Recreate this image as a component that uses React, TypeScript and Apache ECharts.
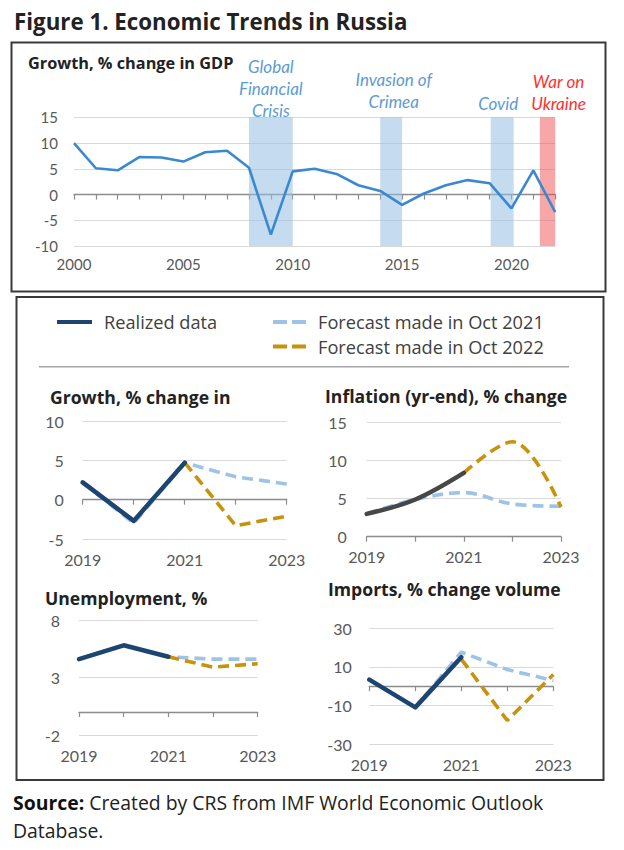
import { useEffect, useRef } from 'react';
import * as echarts from 'echarts';

// ---------- data ----------
const gdpYears = [2000, 2001, 2002, 2003, 2004, 2005, 2006, 2007, 2008, 2009, 2010, 2011, 2012, 2013, 2014, 2015, 2016, 2017, 2018, 2019, 2020, 2021, 2022];
const gdpGrowth = [10.0, 5.1, 4.7, 7.3, 7.2, 6.4, 8.2, 8.5, 5.2, -7.8, 4.5, 5.0, 4.0, 1.8, 0.7, -2.0, 0.2, 1.8, 2.8, 2.2, -2.7, 4.7, -3.4];

const eventNames = ['Global\nFinancial\nCrisis', 'Invasion of\nCrimea', 'Covid', 'War on\nUkraine'];
const eventStart = [2008, 2014, 2019.05, 2021.3];
const eventEnd = [2010, 2015, 2020.1, 2022.15];
const eventLow = [-10.5, -10.7, -10, -10];
const eventHigh = [15, 15, 15, 15];

const panelYears = ['2019', '2020', '2021', '2022', '2023'];

const growthRealized = [2.2, -2.7, 4.7, null, null];
const growthOct2021 = [2.2, -3.0, 4.7, 2.9, 2.0];
const growthOct2022 = [null, null, 4.7, -3.3, -2.1];

const inflationRealized = [3.0, 4.9, 8.4, null, null];
const inflationOct2021 = [3.0, 4.9, 5.8, 4.3, 4.0];
const inflationOct2022 = [null, null, 8.4, 12.5, 3.9];

const unempRealized = [4.6, 5.8, 4.8, null, null];
const unempOct2021 = [4.6, 5.8, 4.8, 4.6, 4.6];
const unempOct2022 = [null, null, 4.8, 3.9, 4.2];

const importsRealized = [3.4, -11.0, 15.0, null, null];
const importsOct2021 = [3.4, -11.0, 17.6, 8.6, 2.9];
const importsOct2022 = [null, null, 14.0, -17.8, 6.0];

const panelTitles = ['Growth, % change in', 'Inflation (yr-end), % change', 'Unemployment, %', 'Imports, % change volume'];
const panelYMin = [-5, 0, -2, -30];
const panelYMax = [10, 15, 8, 30];
const panelYStep = [5, 5, 5, 20];

// ---------- styles ----------
const FONT = 'Lato';
const HEAD = 'Open Sans';
const NAVY = '#1D4571';
const GRAYLINE = '#474747';
const LIGHTBLUE = '#9DC3E6';
const ORANGE = '#C8920C';
const LABEL = '#595959';
const GRID = '#D9D9D9';
const AXIS = '#8C8C8C';

const eventColors = ['rgba(150,190,228,0.55)', 'rgba(150,190,228,0.55)', 'rgba(150,190,228,0.55)', 'rgba(240,80,80,0.5)'];
const eventTextColors = ['#5B9BD5', '#5B9BD5', '#5B9BD5', '#FF3030'];
const eventLabelDist = [-4.4, 4.6, 3, 3];
const eventLabelDx = [0, 2.5, -4, 11];

const panelGrids = [
  { left: 82.7, top: 421, width: 204, height: 118 },
  { left: 366.7, top: 422.7, width: 194.3, height: 114 },
  { left: 79, top: 620, width: 178.7, height: 115 },
  { left: 369.3, top: 628.3, width: 184, height: 115.7 },
];
const panelTitlePos = [
  { left: 50, top: 388 },
  { left: 325, top: 387.5 },
  { left: 45, top: 589.5 },
  { left: 328, top: 580.5 },
];
const panelYMargin = [19, 20, 19, 17.5];

export default function App() {
  const ref = useRef<HTMLDivElement>(null);

  useEffect(() => {
    if (!ref.current) return;
    const chart = echarts.init(ref.current, undefined, { renderer: 'svg' });

    const titleBold = (size: number) => ({ fontFamily: HEAD, fontWeight: 'bold' as const, fontSize: size, color: '#222' });

    const grids: any[] = [
      { left: 74, top: 117.3, width: 481.2, height: 128.7, outerBoundsMode: 'none' },
      ...panelGrids.map((g) => ({ ...g, outerBoundsMode: 'none' })),
    ];

    const xAxes: any[] = [
      {
        gridIndex: 0, type: 'value', min: 2000, max: 2022, interval: 5, position: 'bottom',
        axisLine: { show: false, onZero: false }, axisTick: { show: false }, splitLine: { show: false },
        axisLabel: { fontFamily: FONT, fontSize: 15, color: LABEL, margin: 10, formatter: (v: number) => (v % 5 === 0 ? String(v) : '') },
      },
      {
        gridIndex: 0, type: 'value', min: 2000, max: 2022, interval: 1, position: 'bottom',
        axisLine: { show: true, onZero: true, lineStyle: { color: AXIS, width: 1.3 } },
        axisTick: { show: true, length: 5, lineStyle: { color: AXIS, width: 1.2 } },
        axisLabel: { show: false }, splitLine: { show: false },
      },
    ];
    const yAxes: any[] = [
      {
        gridIndex: 0, type: 'value', min: -10, max: 15, interval: 5,
        axisLine: { show: false }, axisTick: { show: false },
        splitLine: { lineStyle: { color: GRID, width: 1.2 } },
        axisLabel: { fontFamily: FONT, fontSize: 15, color: LABEL, margin: 16 },
      },
    ];

    panelTitles.forEach((_, i) => {
      const g = i + 1;
      xAxes.push({
        gridIndex: g, type: 'category', data: panelYears, boundaryGap: false, position: 'bottom',
        axisLine: { show: false, onZero: false }, axisTick: { show: false }, splitLine: { show: false },
        axisLabel: { interval: 1, fontFamily: FONT, fontSize: 16, color: LABEL, margin: 12 },
      });
      xAxes.push({
        gridIndex: g, type: 'category', data: panelYears, boundaryGap: false, position: 'bottom',
        axisLine: { show: true, onZero: true, lineStyle: { color: AXIS, width: 1.3 } },
        axisTick: { show: true, interval: 0, length: 5, lineStyle: { color: AXIS, width: 1.2 } },
        axisLabel: { show: false }, splitLine: { show: false },
      });
      yAxes.push({
        gridIndex: g, type: 'value', min: panelYMin[i], max: panelYMax[i], interval: panelYStep[i],
        axisLine: { show: false }, axisTick: { show: false },
        splitLine: { lineStyle: { color: GRID, width: 1.2 } },
        axisLabel: { fontFamily: FONT, fontSize: 16, color: LABEL, margin: panelYMargin[i] },
      });
    });

    const series: any[] = [
      {
        name: 'GDP growth', type: 'line', xAxisIndex: 0, yAxisIndex: 0,
        data: gdpYears.map((y, i) => [y, gdpGrowth[i]]),
        symbol: 'none', lineStyle: { color: '#3A89D0', width: 2.6 }, itemStyle: { color: '#3A89D0' },
        z: 3, silent: true,
        markArea: {
          silent: true,
          data: eventNames.map((n, i) => [
            {
              name: n, xAxis: eventStart[i], yAxis: eventHigh[i],
              itemStyle: { color: eventColors[i] },
              label: {
                show: true, position: 'top', distance: eventLabelDist[i], offset: [eventLabelDx[i], 0],
                fontFamily: FONT, fontStyle: 'italic', fontSize: 17, lineHeight: 22, color: eventTextColors[i], align: 'center',
              },
            },
            { xAxis: eventEnd[i], yAxis: eventLow[i] },
          ]),
        },
      },
    ];

    const panels = [
      [growthRealized, growthOct2021, growthOct2022, NAVY, false],
      [inflationRealized, inflationOct2021, inflationOct2022, GRAYLINE, 0.35],
      [unempRealized, unempOct2021, unempOct2022, NAVY, false],
      [importsRealized, importsOct2021, importsOct2022, NAVY, false],
    ] as const;

    panels.forEach(([real, f21, f22, realColor, smooth], i) => {
      const g = i + 1;
      const xi = 2 * g;
      series.push({
        name: 'Forecast made in Oct 2021', type: 'line', xAxisIndex: xi, yAxisIndex: g, data: f21,
        symbol: 'none', smooth, silent: true, z: 2,
        lineStyle: { color: LIGHTBLUE, width: 3.6, type: [11, 6], cap: 'butt' }, itemStyle: { color: LIGHTBLUE },
      });
      series.push({
        name: 'Forecast made in Oct 2022', type: 'line', xAxisIndex: xi, yAxisIndex: g, data: f22,
        symbol: 'none', smooth, silent: true, z: 3,
        lineStyle: { color: ORANGE, width: 3.6, type: [11, 6], cap: 'butt' }, itemStyle: { color: ORANGE },
      });
      series.push({
        name: 'Realized data', type: 'line', xAxisIndex: xi, yAxisIndex: g, data: real,
        symbol: 'none', smooth, silent: true, z: 4,
        lineStyle: { color: realColor, width: 4.5, cap: 'round', join: 'round' }, itemStyle: { color: realColor },
      });
    });

    const legendText = { fontFamily: HEAD, fontSize: 18.2, color: '#404040', padding: [0, 0, 0, 7] };
    const dashIcon = 'path://M0,0H14V4H0Z M19,0H33V4H19Z';

    const option: any = {
      animation: false,
      backgroundColor: '#ffffff',
      textStyle: { fontFamily: FONT },
      title: [
        { text: 'Figure 1. Economic Trends in Russia', left: 14, top: 10, padding: 0, textStyle: titleBold(22.3) },
        { text: 'Growth, % change in GDP', left: 28, top: 55, padding: 0, textStyle: titleBold(16.3) },
        ...panelTitles.map((t, i) => ({ text: t, left: panelTitlePos[i].left, top: panelTitlePos[i].top - 0.3, padding: 0, textStyle: titleBold(17.6) })),
        {
          text: '{b|Source:} Created by CRS from IMF World Economic Outlook\nDatabase.',
          left: 13, top: 788, padding: 0,
          textStyle: {
            fontFamily: HEAD, fontSize: 19.4, lineHeight: 28, color: '#222', fontWeight: 'normal',
            rich: { b: { fontFamily: HEAD, fontSize: 19.4, lineHeight: 28, fontWeight: 'bold', color: '#111' } },
          },
        },
      ],
      legend: [
        { data: ['Realized data'], left: 57, top: 313, padding: 0, icon: 'rect', itemWidth: 35, itemHeight: 4, selectedMode: false, itemStyle: { borderWidth: 0 }, textStyle: legendText },
        { data: ['Forecast made in Oct 2021'], left: 273, top: 313, padding: 0, icon: dashIcon, itemWidth: 33, itemHeight: 4, selectedMode: false, itemStyle: { borderWidth: 0 }, textStyle: legendText },
        { data: ['Forecast made in Oct 2022'], left: 273, top: 337.5, padding: 0, icon: dashIcon, itemWidth: 33, itemHeight: 4, selectedMode: false, itemStyle: { borderWidth: 0 }, textStyle: legendText },
      ],
      grid: grids,
      xAxis: xAxes,
      yAxis: yAxes,
      series,
      graphic: [
        { type: 'rect', shape: { x: 11.5, y: 42.5, width: 594, height: 249 }, style: { fill: 'none', stroke: '#3A3A3A', lineWidth: 2 }, silent: true },
        { type: 'rect', shape: { x: 16.5, y: 297, width: 587, height: 483 }, style: { fill: 'none', stroke: '#3A3A3A', lineWidth: 2 }, silent: true },
        { type: 'line', shape: { x1: 39, y1: 366.7, x2: 569, y2: 366.7 }, style: { stroke: '#A6A6A6', lineWidth: 1.5 }, silent: true },
      ],
    };

    chart.setOption(option);
    return () => chart.dispose();
  }, []);

  return <div ref={ref} style={{ position: 'absolute', left: 0, top: 0, width: 624, height: 850 }} />;
}
